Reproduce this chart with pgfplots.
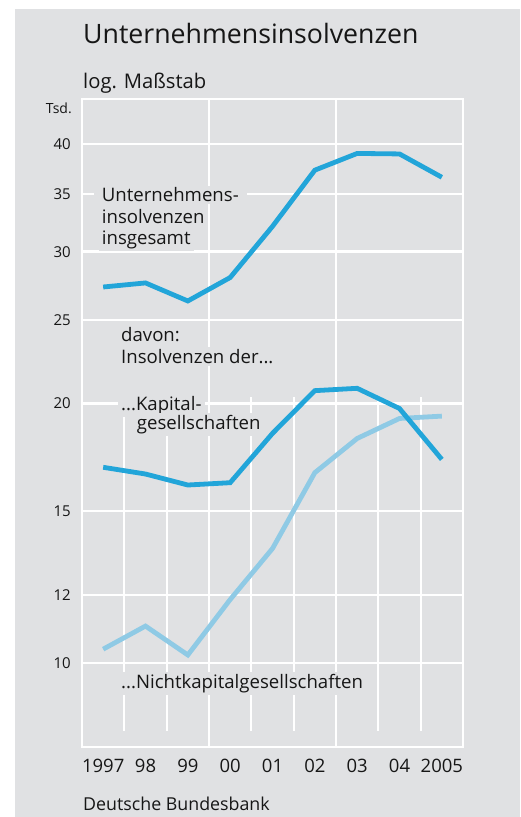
\documentclass[border=0pt]{standalone}
\usepackage{fontspec}
\setmainfont{Open Sans}
\usepackage{pgfplots}
\pgfplotsset{compat=1.18}
\definecolor{bg}{HTML}{E0E1E3}
\definecolor{dblue}{HTML}{22A5D9}
\definecolor{lblue}{HTML}{8FCAE5}
\definecolor{txt}{HTML}{161616}
\pgfplotstableread{
x total kapital nicht
0.5 27.30 16.87 10.38
1.5 27.60 16.57 11.04
2.5 26.30 16.09 10.22
3.5 28.00 16.19 11.85
4.5 32.10 18.47 13.58
5.5 37.30 20.70 16.63
6.5 39.00 20.83 18.22
7.5 38.95 19.74 19.22
8.5 36.60 17.23 19.34
}\datatable
\begin{document}
\begin{tikzpicture}
\fill[white] (0pt,0pt) rectangle (520pt,-817pt);
\fill[bg] (15pt,-9pt) rectangle (520pt,-817pt);
\node[anchor=base west, inner sep=0, text=txt, font=\fontsize{26.7}{30}\selectfont] at (83pt,-43.3pt) {Unternehmensinsolvenzen};
\node[anchor=base west, inner sep=0, text=txt, font=\fontsize{20.2}{23}\selectfont] at (83pt,-88pt) {log. Maßstab};
\node[anchor=base east, inner sep=0, text=txt, font=\fontsize{14}{16}\selectfont] at (72pt,-113pt) {Tsd.};
\begin{axis}[
  at={(82pt,-746.7pt)}, anchor=south west,
  scale only axis, width=381pt, height=647.7pt,
  xmin=0, xmax=9, ymode=log, ymin=8, ymax=45.1,
  clip=false,
  axis line style={white, line width=2pt},
  ytick={10,12,15,20,25,30,35,40},
  yticklabels={10,12,15,20,25,30,35,40},
  ymajorgrids, grid style={white, line width=2.4pt},
  major tick length=0pt,
  yticklabel style={font=\fontsize{15}{18}\selectfont, text=txt, anchor=east, inner sep=0pt, xshift=-11pt},
  xtick={0.5,1.5,...,8.5},
  xticklabels={1997,98,99,00,01,02,03,04,2005},
  xticklabel style={font=\fontsize{18.5}{21}\selectfont, text=txt, anchor=base, inner sep=0pt, yshift=-26.3pt},
  /pgf/number format/assume math mode=true,
]
\draw[white, line width=2pt] (rel axis cs:0.3333,1) -- (rel axis cs:0.3333,0) -- ++(0,-25.3pt);
\draw[white, line width=2pt] (rel axis cs:0.6667,1) -- (rel axis cs:0.6667,0) -- ++(0,-25.3pt);
\draw[white, line width=2pt] ([yshift=16pt]rel axis cs:0.1111,0) -- ++(0,-41.3pt);
\draw[white, line width=2pt] ([yshift=16pt]rel axis cs:0.2222,0) -- ++(0,-41.3pt);
\draw[white, line width=2pt] ([yshift=16pt]rel axis cs:0.4444,0) -- ++(0,-41.3pt);
\draw[white, line width=2pt] ([yshift=16pt]rel axis cs:0.5556,0) -- ++(0,-41.3pt);
\draw[white, line width=2pt] ([yshift=16pt]rel axis cs:0.7778,0) -- ++(0,-41.3pt);
\draw[white, line width=2pt] ([yshift=16pt]rel axis cs:0.8889,0) -- ++(0,-41.3pt);
\addplot[lblue, line width=4.8pt, no marks] table[x=x, y=nicht] {\datatable};
\addplot[dblue, line width=4.8pt, no marks] table[x=x, y=kapital] {\datatable};
\addplot[dblue, line width=4.8pt, no marks] table[x=x, y=total] {\datatable};
\end{axis}
\begin{scope}[every node/.style={anchor=base west, text=txt, font=\fontsize{18.6}{22}\selectfont, fill=bg, inner xsep=3pt, inner ysep=2pt}]
\node[inner xsep=8pt] at (93.7pt,-201.7pt) {Unternehmens-};
\node at (98.7pt,-223pt) {insolvenzen};
\node at (98.7pt,-244.3pt) {insgesamt};
\node at (118pt,-341.7pt) {davon:};
\node at (118pt,-363.3pt) {Insolvenzen der...};
\node at (118pt,-410.7pt) {...Kapital-};
\node at (133.7pt,-429.3pt) {gesellschaften};
\node at (118pt,-688.3pt) {...Nichtkapitalgesellschaften};
\end{scope}
\node[anchor=base west, inner sep=0, text=txt, font=\fontsize{17.8}{20}\selectfont] at (83pt,-810pt) {Deutsche Bundesbank};
\end{tikzpicture}
\end{document}
